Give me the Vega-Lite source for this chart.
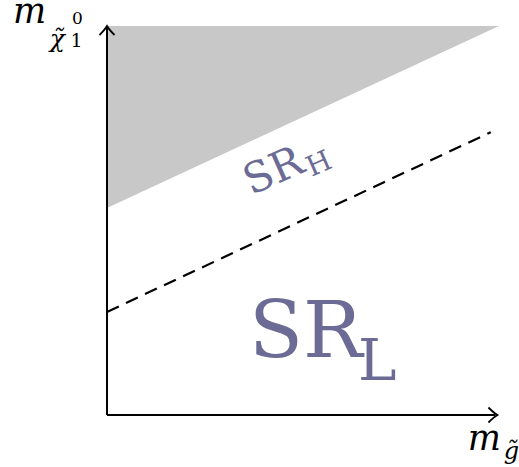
{
  "$schema": "https://vega.github.io/schema/vega-lite/v6.json",
  "width": 392,
  "height": 389,
  "autosize": {"type": "none"},
  "padding": {"left": 107, "top": 26, "right": 20, "bottom": 52},
  "background": "white",
  "config": {"view": {"stroke": null}},
  "data": {"values": [{}]},
  "datasets": {
    "region": [
      {"m_gluino": 0, "lo": 53.2, "hi": 100},
      {"m_gluino": 100, "lo": 100, "hi": 100}
    ],
    "boundary": [
      {"m_gluino": 0, "m_neutralino": 26.5},
      {"m_gluino": 97.9, "m_neutralino": 72.7}
    ]
  },
  "layer": [
    {
      "data": {"name": "region"},
      "mark": {"type": "area", "color": "#c8c8c8"},
      "encoding": {
        "x": {"field": "m_gluino", "type": "quantitative", "scale": {"domain": [0, 100], "nice": false, "zero": false}, "axis": null},
        "y": {"field": "lo", "type": "quantitative", "scale": {"domain": [0, 100], "nice": false, "zero": false}, "axis": null},
        "y2": {"field": "hi"}
      }
    },
    {
      "data": {"name": "boundary"},
      "mark": {"type": "line", "color": "black", "strokeWidth": 2.2, "strokeDash": [13, 8]},
      "encoding": {
        "x": {"field": "m_gluino", "type": "quantitative"},
        "y": {"field": "m_neutralino", "type": "quantitative"}
      }
    },
    {
      "mark": {"type": "rule", "color": "black", "strokeWidth": 2},
      "encoding": {
        "x": {"datum": 0, "type": "quantitative"},
        "y": {"datum": 0, "type": "quantitative"},
        "y2": {"datum": 99.6}
      }
    },
    {
      "mark": {"type": "rule", "color": "black", "strokeWidth": 2},
      "encoding": {
        "x": {"datum": 0, "type": "quantitative"},
        "x2": {"datum": 99.0},
        "y": {"datum": 0, "type": "quantitative"}
      }
    },
    {
      "mark": {"type": "point", "shape": "M-0.75,0.9 Q-0.2,0.35 0,0 Q0.2,0.35 0.75,0.9", "filled": false, "stroke": "black", "strokeWidth": 1.8, "size": 400, "opacity": 1},
      "encoding": {
        "x": {"datum": 0, "type": "quantitative"},
        "y": {"datum": 100, "type": "quantitative"}
      }
    },
    {
      "mark": {"type": "point", "shape": "M-0.75,0.9 Q-0.2,0.35 0,0 Q0.2,0.35 0.75,0.9", "filled": false, "stroke": "black", "strokeWidth": 1.8, "size": 400, "opacity": 1, "angle": 90},
      "encoding": {
        "x": {"datum": 99.6, "type": "quantitative"},
        "y": {"datum": 0, "type": "quantitative"}
      }
    },
    {
      "mark": {"type": "text", "text": "SR", "font": "DejaVu Serif", "fontSize": 79, "color": "#6b6b95", "align": "left", "baseline": "alphabetic"},
      "encoding": {
        "x": {"datum": 36.2, "type": "quantitative"},
        "y": {"datum": 14.9, "type": "quantitative"}
      }
    },
    {
      "mark": {"type": "text", "text": "L", "font": "DejaVu Serif", "fontSize": 58, "color": "#6b6b95", "align": "left", "baseline": "alphabetic"},
      "encoding": {
        "x": {"datum": 64.0, "type": "quantitative"},
        "y": {"datum": 9.0, "type": "quantitative"}
      }
    },
    {
      "mark": {"type": "text", "text": "SR", "font": "DejaVu Serif", "fontSize": 42, "color": "#6b6b95", "align": "left", "baseline": "alphabetic", "angle": 336},
      "encoding": {
        "x": {"datum": 36.8, "type": "quantitative"},
        "y": {"datum": 56.4, "type": "quantitative"}
      }
    },
    {
      "mark": {"type": "text", "text": "H", "font": "DejaVu Serif", "fontSize": 28, "color": "#6b6b95", "align": "left", "baseline": "alphabetic", "angle": 336},
      "encoding": {
        "x": {"datum": 52.2, "type": "quantitative"},
        "y": {"datum": 61.2, "type": "quantitative"}
      }
    },
    {
      "mark": {"type": "text", "text": "m", "font": "DejaVu Serif", "fontStyle": "italic", "fontSize": 35, "color": "black", "align": "left", "baseline": "alphabetic"},
      "encoding": {
        "x": {"datum": -24.0, "type": "quantitative"},
        "y": {"datum": 100.7, "type": "quantitative"}
      }
    },
    {
      "mark": {"type": "text", "text": "χ̃", "font": "DejaVu Serif", "fontStyle": "italic", "fontSize": 25, "color": "black", "align": "left", "baseline": "alphabetic"},
      "encoding": {
        "x": {"datum": -14.6, "type": "quantitative"},
        "y": {"datum": 94.6, "type": "quantitative"}
      }
    },
    {
      "mark": {"type": "text", "text": "1", "font": "DejaVu Serif", "fontSize": 19, "color": "black", "align": "left", "baseline": "alphabetic"},
      "encoding": {
        "x": {"datum": -9.3, "type": "quantitative"},
        "y": {"datum": 94.6, "type": "quantitative"}
      }
    },
    {
      "mark": {"type": "text", "text": "0", "font": "DejaVu Serif", "fontSize": 17, "color": "black", "align": "left", "baseline": "alphabetic"},
      "encoding": {
        "x": {"datum": -8.9, "type": "quantitative"},
        "y": {"datum": 100.6, "type": "quantitative"}
      }
    },
    {
      "mark": {"type": "text", "text": "m", "font": "DejaVu Serif", "fontStyle": "italic", "fontSize": 35, "color": "black", "align": "left", "baseline": "alphabetic"},
      "encoding": {
        "x": {"datum": 92.0, "type": "quantitative"},
        "y": {"datum": -9.0, "type": "quantitative"}
      }
    },
    {
      "mark": {"type": "text", "text": "g̃", "font": "DejaVu Serif", "fontStyle": "italic", "fontSize": 24, "color": "black", "align": "left", "baseline": "alphabetic"},
      "encoding": {
        "x": {"datum": 101.2, "type": "quantitative"},
        "y": {"datum": -11.3, "type": "quantitative"}
      }
    }
  ]
}
